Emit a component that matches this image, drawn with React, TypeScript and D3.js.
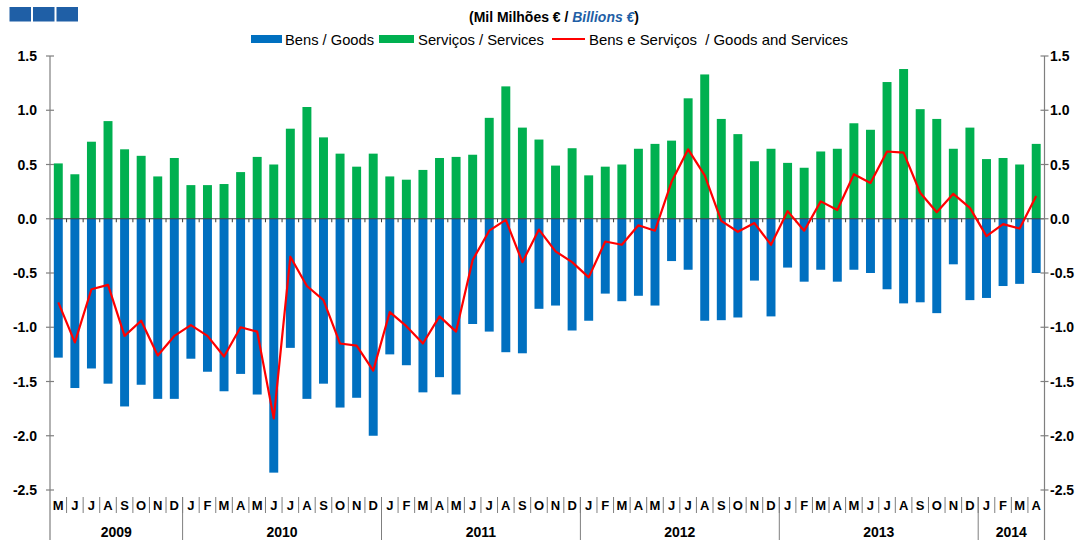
import { scaleBand, scaleLinear, line } from "d3";

// Monthly categories, May 2009 - April 2014
const monthLetters = [
  "M", "J", "J", "A", "S", "O", "N", "D",
  "J", "F", "M", "A", "M", "J", "J", "A", "S", "O", "N", "D",
  "J", "F", "M", "A", "M", "J", "J", "A", "S", "O", "N", "D",
  "J", "F", "M", "A", "M", "J", "J", "A", "S", "O", "N", "D",
  "J", "F", "M", "A", "M", "J", "J", "A", "S", "O", "N", "D",
  "J", "F", "M", "A",
];

const years = ["2009", "2010", "2011", "2012", "2013", "2014"];
const monthsPerYear = [8, 12, 12, 12, 12, 4];

// Bens / Goods
const goods = [
  -1.28, -1.56, -1.38, -1.52, -1.73, -1.53, -1.66, -1.66,
  -1.29, -1.41, -1.59, -1.43, -1.62, -2.34, -1.19, -1.66, -1.52, -1.74, -1.65, -2.0,
  -1.25, -1.35, -1.6, -1.46, -1.62, -0.97, -1.04, -1.23, -1.24, -0.83, -0.8, -1.03,
  -0.94, -0.69, -0.76, -0.71, -0.8, -0.39, -0.47, -0.94, -0.935, -0.91, -0.57, -0.9,
  -0.45, -0.58, -0.47, -0.58, -0.47, -0.5, -0.65, -0.78, -0.77, -0.87, -0.42, -0.75,
  -0.73, -0.62, -0.6, -0.5,
];

// Serviços / Services
const services = [
  0.51, 0.41, 0.71, 0.9, 0.64, 0.58, 0.39, 0.56,
  0.31, 0.31, 0.32, 0.43, 0.57, 0.5, 0.83, 1.03, 0.75, 0.6, 0.48, 0.6,
  0.39, 0.36, 0.45, 0.56, 0.57, 0.59, 0.93, 1.22, 0.84, 0.73, 0.49, 0.65,
  0.4, 0.48, 0.5, 0.645, 0.69, 0.72, 1.11, 1.33, 0.92, 0.78, 0.53, 0.645,
  0.515, 0.47, 0.62, 0.645, 0.88, 0.82, 1.26, 1.38, 1.01, 0.92, 0.645, 0.84,
  0.55, 0.56, 0.5, 0.69,
];

// Bens e Serviços / Goods and Services
const total = [
  -0.77, -1.14, -0.65, -0.61, -1.08, -0.94, -1.26, -1.08,
  -0.98, -1.08, -1.27, -1.0, -1.04, -1.84, -0.35, -0.62, -0.75, -1.15, -1.17, -1.4,
  -0.86, -0.99, -1.15, -0.9, -1.04, -0.38, -0.11, -0.01, -0.4, -0.1, -0.3, -0.4,
  -0.54, -0.21, -0.24, -0.06, -0.11, 0.34, 0.64, 0.4, -0.02, -0.12, -0.04, -0.24,
  0.07, -0.11, 0.16, 0.08, 0.41, 0.33, 0.62, 0.61, 0.24, 0.06, 0.23, 0.1,
  -0.16, -0.05, -0.09, 0.21,
];

const yTicks = [1.5, 1.0, 0.5, 0.0, -0.5, -1.0, -1.5, -2.0, -2.5];

const BLUE = "#0070C0";
const GREEN = "#00B050";
const RED = "#FF0000";
const narrow = "'Liberation Sans Narrow', 'Arial Narrow', 'Liberation Sans', Arial, sans-serif";
const sans = "'Liberation Sans', Arial, sans-serif";

const App = () => {
  const width = 1083;
  const height = 540;
  const left = 50;
  const right = 1044.5;

  const idx = monthLetters.map((_, i) => i);

  const x = scaleBand<number>()
    .domain(idx)
    .range([left, right])
    .paddingInner(0.46)
    .paddingOuter(0.23);
  const step = x.step();

  const y = scaleLinear().domain([-2.5, 1.5]).range([490, 56]);

  const totalLine = line<number>()
    .x((d, i) => (x(i) as number) + x.bandwidth() / 2)
    .y((d) => y(d));

  // band boundaries (between months)
  const boundaries = idx.slice(1).map((i) => left + step * i);
  const yearStarts: number[] = [];
  let acc = 0;
  monthsPerYear.forEach((n) => {
    yearStarts.push(acc);
    acc += n;
  });
  const yearBoundaries = yearStarts.slice(1).map((s) => left + step * s);

  return (
    <svg
      width={width}
      height={height}
      style={{ position: "absolute", left: 0, top: 0, background: "#fff" }}
    >
      {/* corner squares */}
      {[0, 1, 2].map((k) => (
        <rect key={k} x={9.5 + k * 23.5} y={7} width={21.5} height={14.5} fill="#1F5FA6" />
      ))}

      {/* title */}
      <text x={469} y={22} fontFamily={narrow} fontWeight="bold" fontSize={14} fill="#000"
        textLength={170} lengthAdjust="spacingAndGlyphs">
        (Mil Milhões € /{" "}
        <tspan fill="#1F5FA6" fontStyle="italic">Billions €</tspan>)
      </text>

      {/* legend */}
      <g fontFamily={narrow} fontSize={15} fill="#000">
        <rect x={251} y={35} width={31} height={8} fill={BLUE} />
        <text x={285} y={44.5} textLength={89} lengthAdjust="spacingAndGlyphs">Bens / Goods</text>
        <rect x={379} y={35} width={35} height={8} fill={GREEN} />
        <text x={418} y={44.5} textLength={126} lengthAdjust="spacingAndGlyphs">Serviços / Services</text>
        <line x1={552} x2={585} y1={39} y2={39} stroke={RED} strokeWidth={2.2} />
        <text x={589} y={44.5} xmlSpace="preserve" textLength={259} lengthAdjust="spacingAndGlyphs">
          Bens e Serviços  / Goods and Services
        </text>
      </g>

      {/* bars */}
      {services.map((v, i) => (
        <rect
          key={"s" + i}
          x={x(i)}
          y={y(Math.max(0, v))}
          width={x.bandwidth()}
          height={Math.abs(y(v) - y(0))}
          fill={GREEN}
        />
      ))}
      {goods.map((v, i) => (
        <rect
          key={"g" + i}
          x={x(i)}
          y={y(Math.max(0, v))}
          width={x.bandwidth()}
          height={Math.abs(y(v) - y(0))}
          fill={BLUE}
        />
      ))}

      {/* zero line with small ticks */}
      <line x1={left} x2={right} y1={y(0)} y2={y(0)} stroke="#3a3a3a" strokeWidth={1.2} />
      {boundaries.map((bx, i) => (
        <line key={"zt" + i} x1={bx} x2={bx} y1={y(0)} y2={y(0) + 3.5} stroke="#3a3a3a" strokeWidth={1} />
      ))}

      {/* total line */}
      <path d={totalLine(total) || ""} fill="none" stroke={RED} strokeWidth={2.2} strokeLinejoin="round" />

      {/* axes */}
      <g stroke="#7f7f7f" strokeWidth={1.2}>
        <line x1={left} x2={left} y1={y(1.5)} y2={height} />
        <line x1={right} x2={right} y1={y(1.5)} y2={height} />
        {yTicks.map((t) => (
          <g key={"t" + t}>
            <line x1={left - 4} x2={left + 4} y1={y(t)} y2={y(t)} />
            <line x1={right - 4} x2={right + 4} y1={y(t)} y2={y(t)} />
          </g>
        ))}
      </g>
      <g fontFamily={sans} fontWeight="bold" fontSize={14} fill="#000">
        {yTicks.map((t) => (
          <g key={"l" + t}>
            <text x={37} y={y(t) + 5} textAnchor="end">{t.toFixed(1)}</text>
            <text x={1050} y={y(t) + 5}>{t.toFixed(1)}</text>
          </g>
        ))}
      </g>

      {/* category axis */}
      <g stroke="#7f7f7f" strokeWidth={1}>
        {boundaries.map((bx, i) => (
          <line key={"mb" + i} x1={bx} x2={bx} y1={497} y2={513} />
        ))}
        {yearBoundaries.map((bx, i) => (
          <line key={"yb" + i} x1={bx} x2={bx} y1={497} y2={height} />
        ))}
      </g>
      <g fontFamily={narrow} fontWeight="bold" fontSize={13} fill="#000" textAnchor="middle">
        {monthLetters.map((m, i) => (
          <text key={"m" + i} x={(x(i) as number) + x.bandwidth() / 2} y={509.5}>{m}</text>
        ))}
      </g>
      <g fontFamily={sans} fontWeight="bold" fontSize={14} fill="#000" textAnchor="middle">
        {years.map((yr, k) => (
          <text key={yr} x={left + step * (yearStarts[k] + monthsPerYear[k] / 2)} y={537}>{yr}</text>
        ))}
      </g>
    </svg>
  );
};

export default App;
